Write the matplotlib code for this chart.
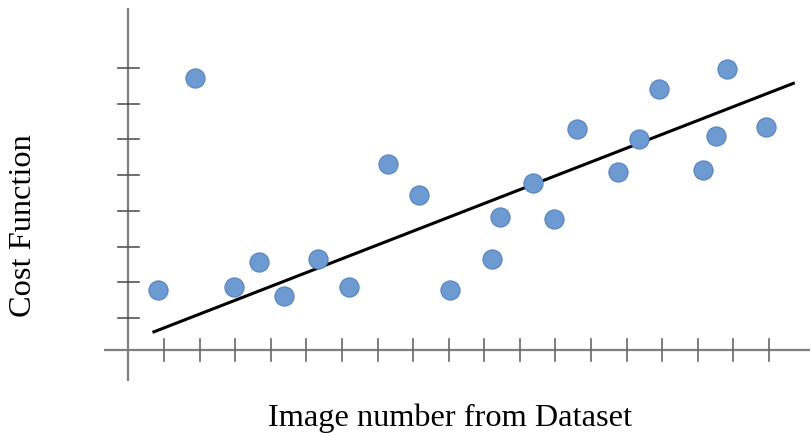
import matplotlib.pyplot as plt

# image number (x) and cost (y) for each scatter point
image_no = [0.84, 1.87, 2.98, 3.68, 4.38, 5.34, 6.20, 7.29, 8.17, 9.04, 10.21,
            10.44, 11.38, 11.95, 12.61, 13.76, 14.34, 14.90, 16.15, 16.50, 16.83, 17.91]
cost = [1.78, 7.73, 1.86, 2.56, 1.62, 2.64, 1.86, 5.31, 4.44, 1.78, 2.64,
        3.82, 4.77, 3.77, 6.28, 5.09, 6.01, 7.41, 5.14, 6.10, 7.97, 6.35]

# fitted trend line end points
fit_x = [0.72, 18.68]
fit_y = [0.61, 7.57]

x_ticks = list(range(1, 19))
y_ticks = list(range(1, 9))

fig = plt.figure(figsize=(8.11, 4.36), dpi=100)
ax = fig.add_axes([0, 0, 1, 1])
ax.set_xlim(-3.604, 19.177)
ax.set_ylim(-2.308, 9.905)
ax.axis('off')

axis_col = '#7f7f7f'
x0, y0 = 0, 0.1
# axis lines
ax.plot([-0.68, 19.14], [y0, y0], color=axis_col, lw=1.6, solid_capstyle='butt')
ax.plot([x0, x0], [-0.78, 9.68], color=axis_col, lw=1.6, solid_capstyle='butt')
# tick marks crossing the axes
for t in x_ticks:
    ax.plot([t, t], [y0 - 0.31, y0 + 0.31], color='#666666', lw=1.2)
for t in y_ticks:
    ax.plot([x0 - 0.3, x0 + 0.3], [t, t], color='#555555', lw=1.2)

ax.plot(fit_x, fit_y, color='black', lw=2.2, zorder=3)
ax.scatter(image_no, cost, s=190, color='#6d9ad1', edgecolor='#5582bd',
           linewidth=0.8, zorder=4)

fig.text(450 / 811, 1 - 426 / 436, 'Image number from Dataset', ha='center',
         va='baseline', fontsize=23.3, family='Liberation Serif')
fig.text(24 / 811, 1 - 226 / 436, 'Cost Function', ha='center', va='center',
         rotation=90, fontsize=23.3, family='Liberation Serif')

fig.savefig('out.png', dpi=100)
